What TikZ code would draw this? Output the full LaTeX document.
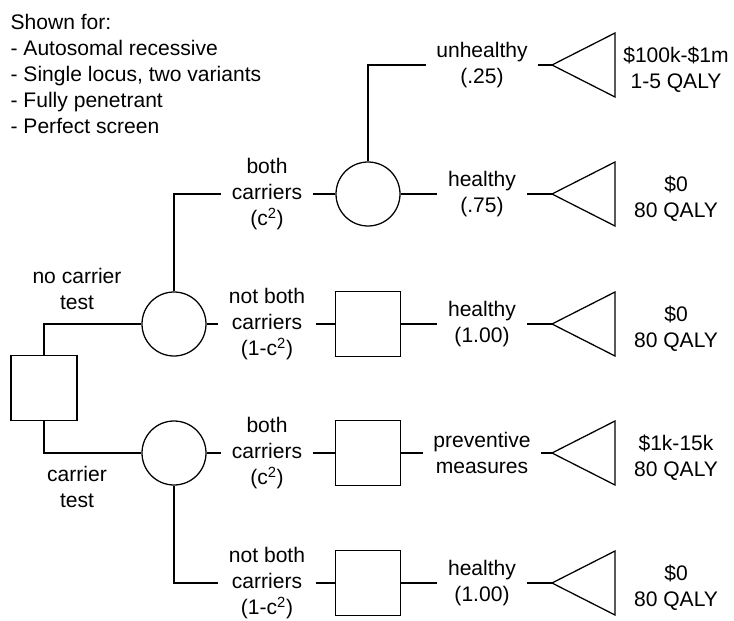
\documentclass[tikz,border=0pt]{standalone}
\usepackage{fontspec}
\setmainfont{Liberation Sans}
\usetikzlibrary{calc}

\begin{document}
\begin{tikzpicture}[
 x=0.75pt, y=-0.75pt,
 line width=0.95pt,
 font=\fontsize{15.8}{19.5}\selectfont,
 align=center,
 decision/.style={draw=black,rectangle,minimum size=48.75pt,inner sep=0pt},
 chance/.style={draw=black,circle,minimum size=48pt,inner sep=0pt},
 branch/.style={rectangle,inner xsep=7.5pt,inner ysep=1pt},
 payoff/.style={rectangle,inner sep=1pt}
]
\useasboundingbox (0,0) rectangle (734,620);
\node (assumptions) [anchor=north west,align=left,inner sep=0pt] at (10,14)
 {Shown for:\\- Autosomal recessive\\- Single locus, two variants\\- Fully penetrant\\- Perfect screen};

% decision and chance nodes
\node (test-choice) [decision,minimum width=49.5pt] at (44,388) {};
\node (no-test) [chance] at (174,324) {};
\node (test) [chance] at (174,453) {};
\node (no-test-both) [chance] at (368,194) {};
\node (no-test-notboth) [decision] at (368,324) {};
\node (test-both) [decision] at (368,453) {};
\node (test-notboth) [decision] at (368,583) {};

% branch labels
\node (no-test-label) at (77,289) {no carrier\\test};
\node (test-label) at (77,487) {carrier\\test};
\node (both-1) [branch] at (267,194) {both\\carriers\\(c\textsuperscript{2})};
\node (notboth-1) [branch] at (267,324) {not both\\carriers\\(1-c\textsuperscript{2})};
\node (both-2) [branch] at (267,453) {both\\carriers\\(c\textsuperscript{2})};
\node (notboth-2) [branch] at (267,583) {not both\\carriers\\(1-c\textsuperscript{2})};
\node (unhealthy) [branch] at (482,65) {unhealthy\\(.25)};
\node (healthy-1) [branch] at (482,194) {healthy\\(.75)};
\node (healthy-2) [branch] at (482,324) {healthy\\(1.00)};
\node (preventive) [branch] at (482,453) {preventive\\measures};
\node (healthy-3) [branch] at (482,583) {healthy\\(1.00)};

% outcomes
\coordinate (end-1) at (552,65);
\coordinate (end-2) at (552,194);
\coordinate (end-3) at (552,324);
\coordinate (end-4) at (552,453);
\coordinate (end-5) at (552,583);
\node (value-1) [payoff] at (676,70) {\$100k-\$1m\\1-5 QALY};
\node (value-2) [payoff] at (676,199) {\$0\\80 QALY};
\node (value-3) [payoff] at (676,329) {\$0\\80 QALY};
\node (value-4) [payoff] at (676,458) {\$1k-15k\\80 QALY};
\node (value-5) [payoff] at (676,588) {\$0\\80 QALY};

\draw (test-choice) |- (no-test);
\draw (test-choice) |- (test);
\draw (no-test) |- (both-1);
\draw (both-1) -- (no-test-both);
\draw (no-test) -- (notboth-1);
\draw (notboth-1) -- (no-test-notboth);
\draw (test) -- (both-2);
\draw (both-2) -- (test-both);
\draw (test) |- (notboth-2);
\draw (notboth-2) -- (test-notboth);
\draw (no-test-both) |- (unhealthy);
\draw (no-test-both) -- (healthy-1);
\draw (no-test-notboth) -- (healthy-2);
\draw (test-both) -- (preventive);
\draw (test-notboth) -- (healthy-3);
\draw (unhealthy) -- (end-1);
\draw (healthy-1) -- (end-2);
\draw (healthy-2) -- (end-3);
\draw (preventive) -- (end-4);
\draw (healthy-3) -- (end-5);
\foreach \i in {1,...,5}
  \draw (end-\i) -- ++(63,-32) -- ++(0,64) -- cycle;
\end{tikzpicture}
\end{document}
